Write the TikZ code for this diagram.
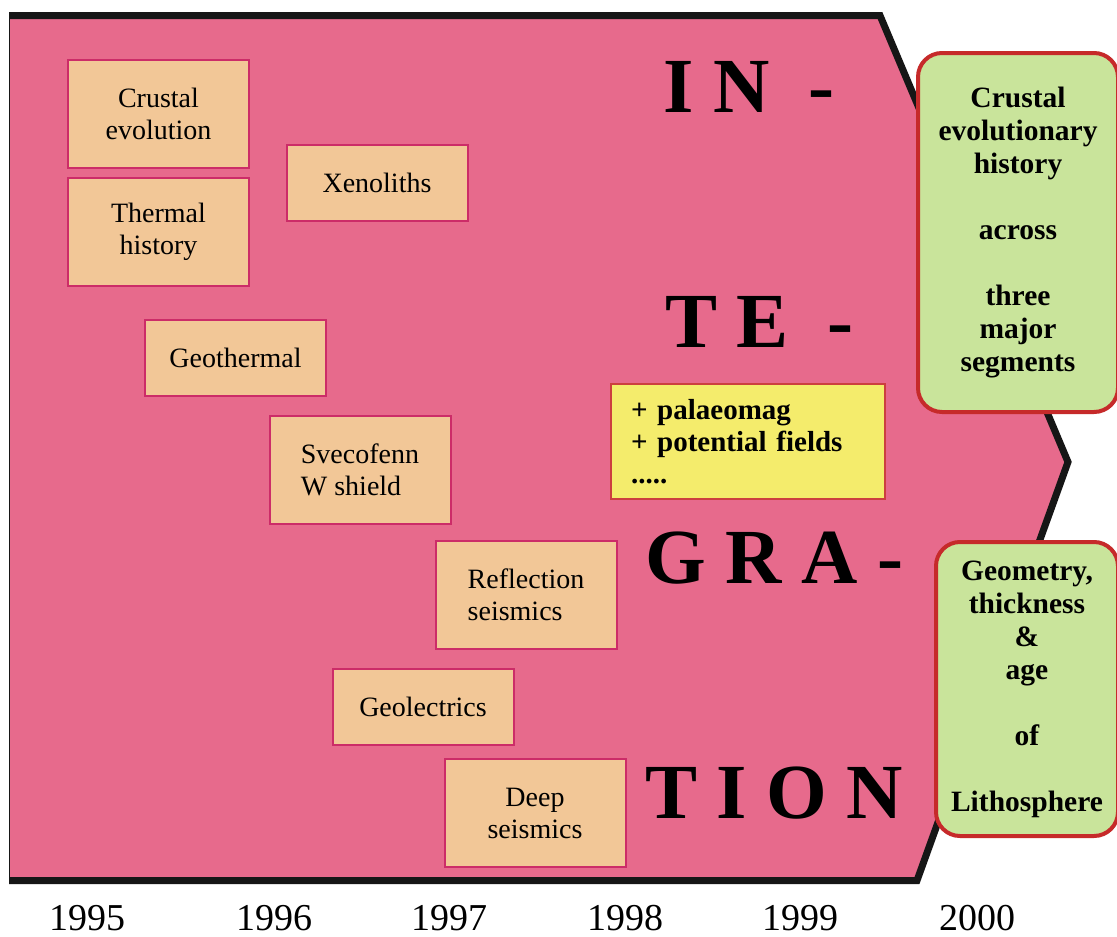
\documentclass[tikz,border=0pt]{standalone}
\usepackage{fontspec}
\setmainfont{Liberation Serif}
\usetikzlibrary{positioning}
\definecolor{intpink}{HTML}{E76A8C}
\definecolor{intpeach}{HTML}{F2C797}
\definecolor{intcrimson}{HTML}{CC2C68}
\definecolor{intgreen}{HTML}{C9E49B}
\definecolor{intred}{HTML}{C62A2A}
\definecolor{intyellow}{HTML}{F4EC6C}
\definecolor{intink}{HTML}{161616}
\tikzset{
  topic/.style={draw=intcrimson, fill=intpeach, line width=2pt, align=center, minimum width=181pt, inner sep=0pt, font=\fontsize{28}{32}\selectfont},
  goal/.style={draw=intred, fill=intgreen, line width=4pt, rounded corners=24pt, align=center, inner sep=0pt, font=\fontsize{29.5}{33}\selectfont\bfseries},
  extra/.style={draw=intred!90, fill=intyellow, line width=2pt, align=left, inner xsep=20pt, inner ysep=0pt, font=\fontsize{29}{32}\selectfont\bfseries},
  word/.style={anchor=base west, inner sep=0pt, font=\fontsize{78}{80}\selectfont\bfseries},
  year/.style={anchor=base, inner sep=0pt, font=\fontsize{38}{40}\selectfont},
}

\begin{document}
\begin{tikzpicture}[x=1pt, y=-1pt]
    \useasboundingbox[fill=white] (0,0) rectangle (1117,937);
    % time arrow
    \fill[intpink] (9,15.5) -- (880,15.5) -- (1068,462) -- (917,880.5) -- (9,880.5) -- cycle;
    \draw[intink, line width=1pt] (9.5,15.5) -- (9.5,880.5);
    \draw[intink, line width=7pt] (9,15.5) -- (880,15.5) -- (1068,462) -- (917,880.5) -- (9,880.5);
    % projects
    \node[topic, minimum height=108pt] (ce) at (158.5,114) {Crustal\\evolution};
    \node[topic, minimum height=108pt] (th) at (158.5,232) {Thermal\\history};
    \node[topic, minimum height=76pt] (xe) at (377,183) {Xenoliths};
    \node[topic, minimum height=76pt] (gt) at (235.5,358) {Geothermal};
    \node[topic, minimum height=108pt, align=left] (sv) at (360,470) {Svecofenn\\W shield};
    \node[topic, minimum height=108pt, align=left] (rs) at (526,595) {Reflection\\seismics};
    \node[topic, minimum height=76pt] (gl) at (423,707) {Geolectrics};
    \node[topic, minimum height=108pt] (ds) at (535,813) {Deep\\seismics};
    \node[extra, anchor=north west, text width=234pt, minimum height=115pt] (pm) at (610,383) {+ palaeomag\\+ potential fields\\.....};
    % integration
    \node[word] (in) at (663,112) {I N\ \ -};
    \node[word] (te) at (665,347) {T E\ \ -};
    \node[word] (gr) at (645,583) {G R A -};
    \node[word] (ti) at (645,818) {T I O N};
    % results
    \node[goal, minimum width=200pt, minimum height=359pt] (cr) at (1018,232.5) {Crustal\\evolutionary\\history\\~\\across\\~\\three\\major\\segments};
    \node[goal, minimum width=182pt, minimum height=294pt] (li) at (1027,689) {Geometry,\\thickness\\\&\\age\\~\\of\\~\\Lithosphere};
    % years
    \node[year] (y95) at (87,930) {1995};
    \node[year] (y96) at (274,930) {1996};
    \node[year] (y97) at (449,930) {1997};
    \node[year] (y98) at (625,930) {1998};
    \node[year] (y99) at (800,930) {1999};
    \node[year] (y00) at (977,930) {2000};
\end{tikzpicture}
\end{document}
